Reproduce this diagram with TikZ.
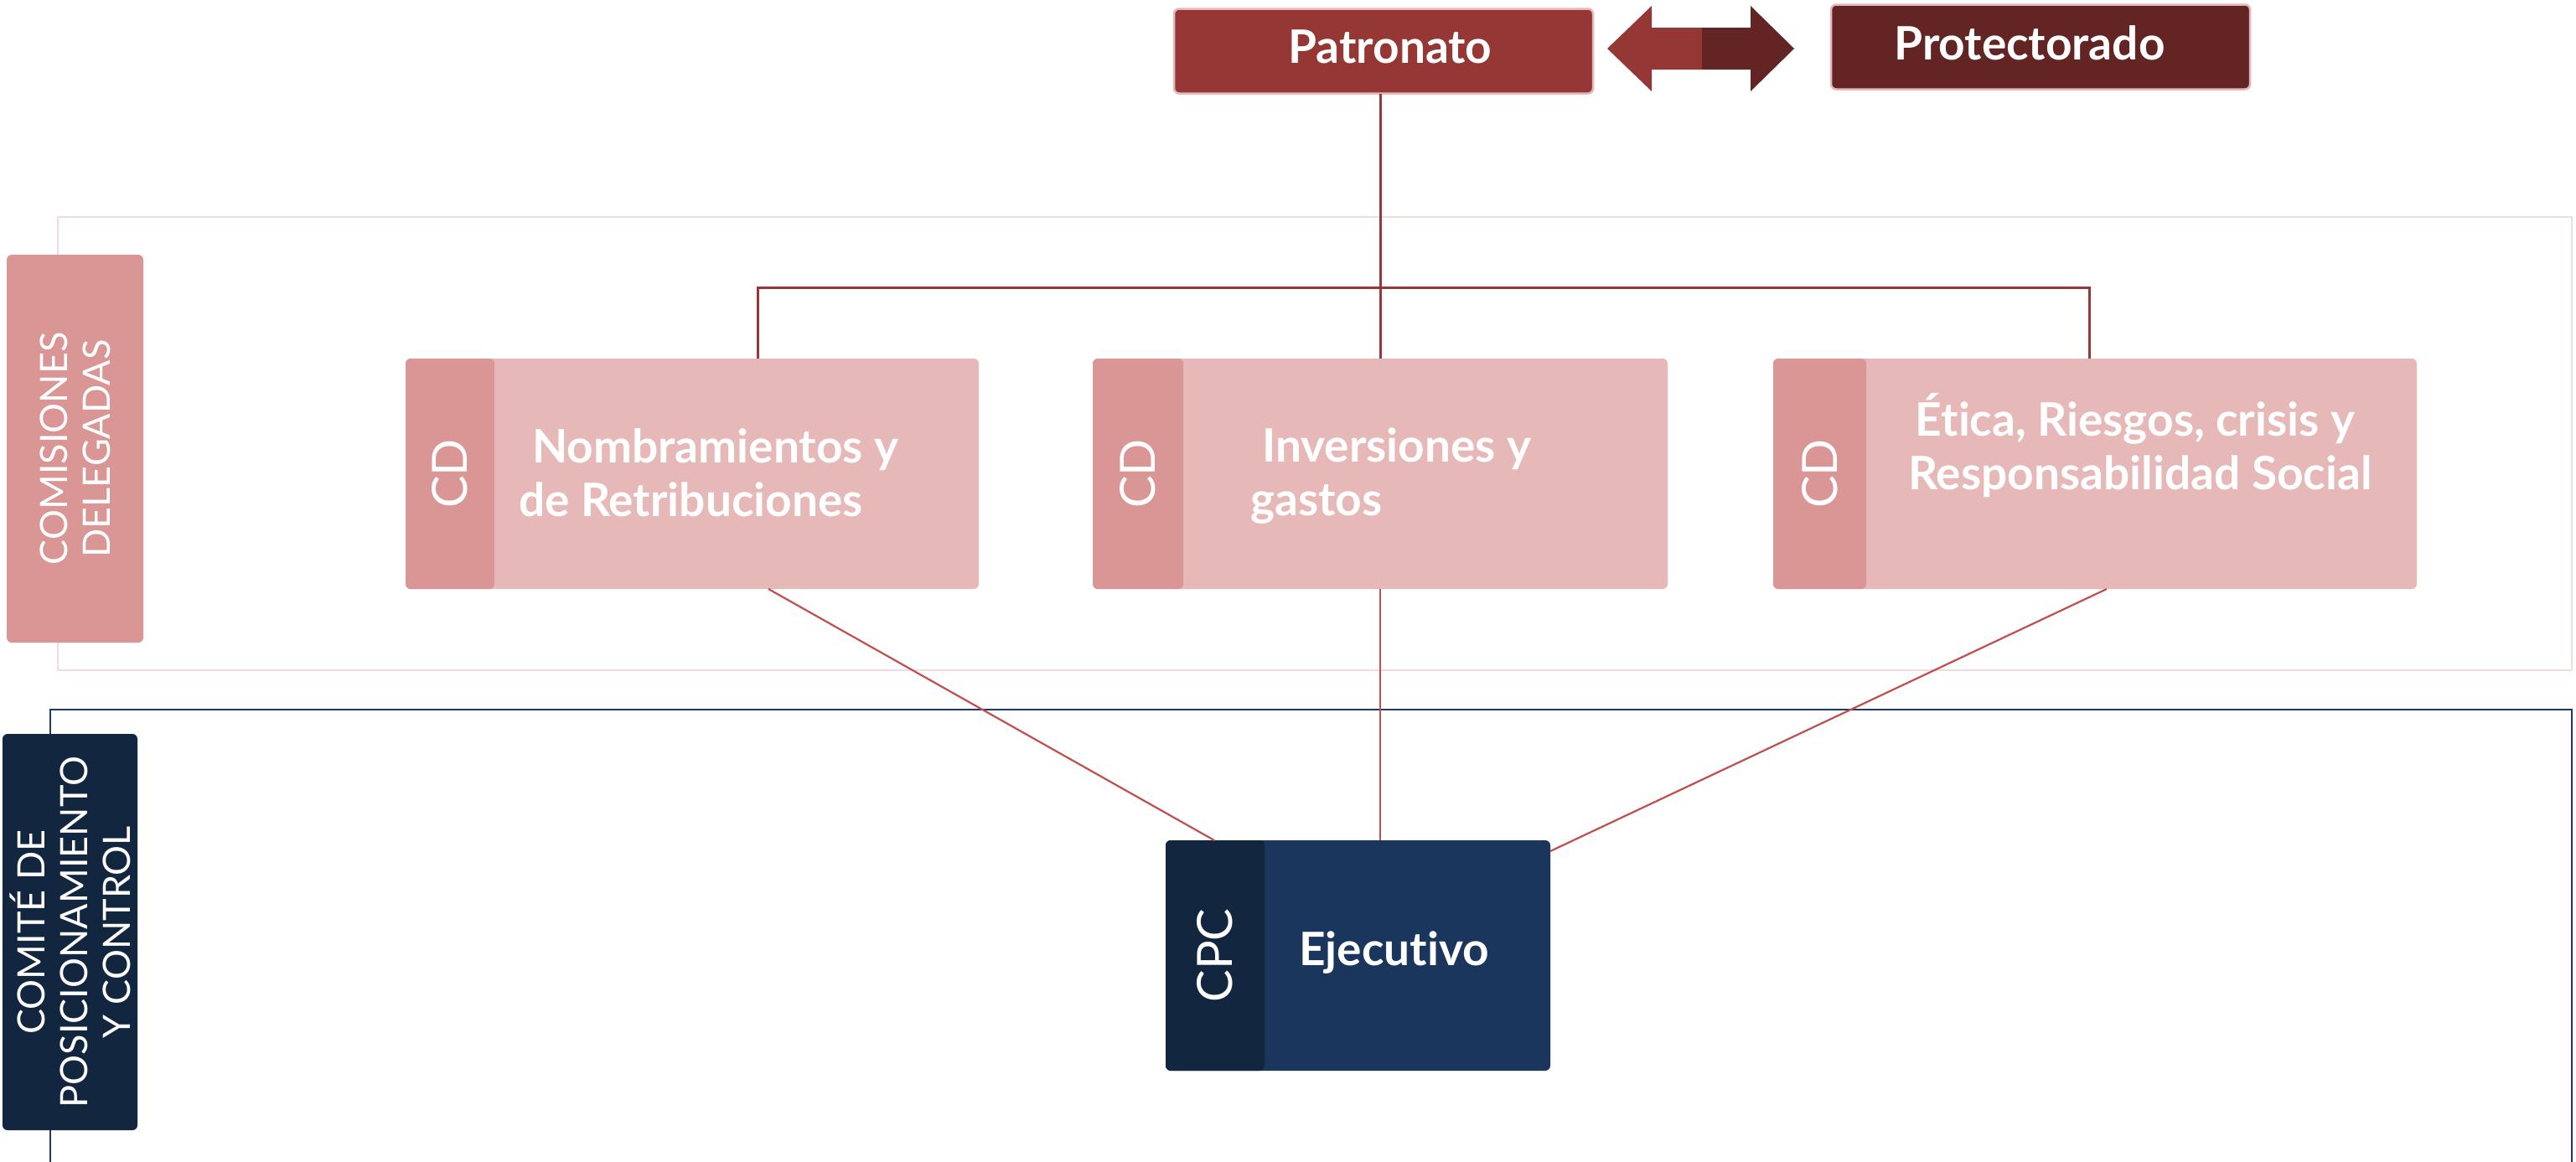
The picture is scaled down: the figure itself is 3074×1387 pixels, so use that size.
\documentclass[tikz,border=0pt]{standalone}
\usepackage{fontspec}
\setmainfont{Lato}[Ligatures=NoCommon]
\newfontfamily\lightfont{Lato}[Ligatures=NoCommon]
\usetikzlibrary{calc}
\definecolor{patr}{HTML}{953735}
\definecolor{prot}{HTML}{632523}
\definecolor{cdmain}{HTML}{E6B9B8}
\definecolor{cdtab}{HTML}{D99694}
\definecolor{pinkframe}{HTML}{F2DCDB}
\definecolor{topline}{HTML}{963838}
\definecolor{lowline}{HTML}{C0504D}
\definecolor{navy}{HTML}{1A365D}
\definecolor{navydark}{HTML}{12263F}
\definecolor{blueframe}{HTML}{1F3864}
\begin{document}
\begin{tikzpicture}[x=1pt,y=-1pt,
  box/.style={rectangle, rounded corners=6pt, inner sep=0pt, outer sep=0pt},
  topbox/.style={box, draw=cdmain, line width=2.5pt, minimum width=500pt, minimum height=101pt},
  mainbox/.style={box, minimum height=275pt},
  tabbox/.style={box, rotate=90, minimum width=275pt, text=white, font=\lightfont\fontsize{58}{58}\selectfont},
  sidebox/.style={box, rotate=90, align=center, text=white, font=\lightfont\fontsize{45}{51}\selectfont},
  boxtext/.style={inner sep=0pt, text=white, font=\bfseries\fontsize{55}{64}\selectfont},
  topconn/.style={draw=topline, line width=3pt},
  lowconn/.style={draw=lowline, line width=2.2pt}
]
\useasboundingbox (0,0) rectangle (3074,1387);
% frames
\draw[pinkframe, line width=2.5pt] (69,259) rectangle (3069,800);
\draw[blueframe, line width=2pt] (60,1390) -- (60,847) -- (3069,847) -- (3069,1390);
% coordinates for the bus
\coordinate (busL) at (904,343);
\coordinate (busR) at (2493,343);
% top boxes
\node[topbox, fill=patr] (patr) at (1651,61) {};
\node[topbox, fill=prot] (prot) at (2435,56) {};
\node[boxtext, anchor=base] (patrt) at (1659,75) {Patronato};
\node[boxtext, anchor=base] (prott) at (2422,71) {Protectorado};
% double arrow
\fill[patr] (1918,58) -- (1971,7) -- (1971,33) -- (2031,33) -- (2031,83) -- (1971,83) -- (1971,109) -- cycle;
\fill[prot] (2031,33) -- (2089,33) -- (2089,7) -- (2141,58) -- (2089,109) -- (2089,83) -- (2031,83) -- cycle;
% side labels
\node[sidebox, fill=cdtab, minimum width=463pt, minimum height=163pt] (comlbl) at (89.5,535.5) {COMISIONES\\DELEGADAS};
\node[sidebox, fill=navydark, minimum width=473pt, minimum height=161pt] (cpclbl) at (83.5,1112.5) {COMITÉ DE\\POSICIONAMIENTO\\Y CONTROL};
% CD boxes
\node[mainbox, fill=cdmain, minimum width=684pt] (cd1) at (826,565.5) {};
\node[tabbox, fill=cdtab, minimum height=106pt] (cd1tab) at (537,565.5) {CD};
\node[mainbox, fill=cdmain, minimum width=686pt] (cd2) at (1647,565.5) {};
\node[tabbox, fill=cdtab, minimum height=108pt] (cd2tab) at (1358,565.5) {CD};
\node[mainbox, fill=cdmain, minimum width=768pt] (cd3) at (2500,565.5) {};
\node[tabbox, fill=cdtab, minimum height=111pt] (cd3tab) at (2171.5,565.5) {CD};
\node[boxtext, anchor=base west] (cd1a) at (635,552) {Nombramientos y};
\node[boxtext, anchor=base west] (cd1b) at (619,616) {de Retribuciones};
\node[boxtext, anchor=base west] (cd2a) at (1506,551) {Inversiones y};
\node[boxtext, anchor=base west] (cd2b) at (1492,615) {gastos};
\node[boxtext, anchor=base] (cd3a) at (2548,520) {Ética, Riesgos, crisis y};
\node[boxtext, anchor=base] (cd3b) at (2554,584) {Responsabilidad Social};
% Ejecutivo
\node[mainbox, fill=navy, minimum width=459pt] (ejec) at (1620.5,1140.5) {};
\node[tabbox, fill=navydark, minimum height=118pt] (cpc) at (1450,1140.5) {CPC};
\node[boxtext, anchor=base west] (eject) at (1550,1152) {Ejecutivo};
% connectors
\draw[topconn] (patr.south -| cd2.north) -- (cd2.north);
\draw[topconn] (cd1.north -| busL) -- (busL) -- (busR) -- (cd3.north -| busR);
\draw[lowconn] ([xshift=91pt]cd1.south) -- ([xshift=58pt]ejec.north west);
\draw[lowconn] (cd2.south) -- (cd2.south |- ejec.north);
\draw[lowconn] ([xshift=14pt]cd3.south) -- ([yshift=-13pt]ejec.north east);
\end{tikzpicture}
\end{document}
